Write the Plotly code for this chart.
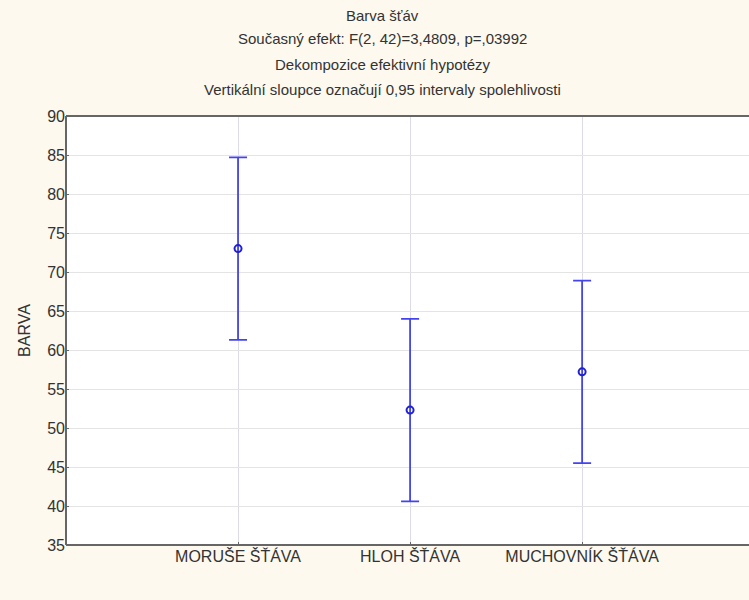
import plotly.graph_objects as go

# Mean colour scores with 0.95 confidence limits per juice
categories = ["MORUŠE ŠŤÁVA", "HLOH ŠŤÁVA", "MUCHOVNÍK ŠŤÁVA"]
means = [73.0, 52.3, 57.2]
upper = [84.7, 64.0, 68.9]
lower = [61.3, 40.6, 45.5]
y_ticks = [35, 40, 45, 50, 55, 60, 65, 70, 75, 80, 85, 90]
title_lines = [
    "Barva šťáv",
    "Současný efekt: F(2, 42)=3,4809, p=,03992",
    "Dekompozice efektivní hypotézy",
    "Vertikální sloupce označují 0,95 intervaly spolehlivosti",
]

BLUE = "#4444ee"
FONT = "Liberation Sans, Arial, sans-serif"
TXT = "#333333"
AXIS = "#666666"

W, H = 749, 600
M_L, M_R, M_T, M_B = 66, 0, 116, 55
plot_h = H - M_T - M_B

x_idx = list(range(len(categories)))
err_plus = [u - m for u, m in zip(upper, means)]
err_minus = [m - l for m, l in zip(means, lower)]

fig = go.Figure()
fig.add_trace(go.Scatter(
    x=x_idx,
    y=means,
    mode="markers",
    marker=dict(symbol="circle-open", size=7, color="#2222cc", line=dict(width=2, color="#2222cc")),
    error_y=dict(type="data", symmetric=False, array=err_plus, arrayminus=err_minus,
                 color=BLUE, thickness=1.8, width=9),
    showlegend=False,
))

# four stacked title lines, positioned by pixel distance from the top edge
line_centers_px = [15, 39, 64, 89]
annotations = []
for line, cy in zip(title_lines, line_centers_px):
    annotations.append(dict(
        text=line, x=0.464, xref="paper", xanchor="center",
        y=1 + (M_T - cy) / plot_h, yref="paper", yanchor="middle",
        showarrow=False, font=dict(family=FONT, size=15, color=TXT),
    ))

# frame of the plot area: left, bottom and top edges (open on the right side)
frame = dict(color=AXIS, width=2)
shapes = [
    dict(type="line", xref="paper", yref="paper", x0=0, x1=1, y0=1, y1=1, line=frame),
    dict(type="line", xref="paper", yref="paper", x0=0, x1=1, y0=0, y1=0, line=frame),
    dict(type="line", xref="paper", yref="paper", x0=0, x1=0, y0=0, y1=1, line=frame),
]

fig.update_layout(
    width=W, height=H,
    margin=dict(l=M_L, r=M_R, t=M_T, b=M_B),
    paper_bgcolor="#fdf9ef",
    plot_bgcolor="#ffffff",
    font=dict(family=FONT, size=16, color=TXT),
    annotations=annotations,
    shapes=shapes,
    xaxis=dict(
        range=[-1, 2.97],
        tickmode="array", tickvals=x_idx, ticktext=categories,
        showgrid=True, gridcolor="#dcdce8", gridwidth=1,
        showline=False,
        ticks="inside", ticklen=3, tickcolor=AXIS,
        tickfont=dict(family=FONT, size=16, color=TXT),
        zeroline=False,
    ),
    yaxis=dict(
        range=[35, 90],
        tickmode="array", tickvals=y_ticks,
        showgrid=True, gridcolor="#e4e4e4", gridwidth=1,
        showline=False,
        ticks="inside", ticklen=3, tickcolor=AXIS,
        tickfont=dict(family=FONT, size=16, color=TXT),
        title=dict(text="BARVA", font=dict(family=FONT, size=16, color=TXT), standoff=12),
        zeroline=False,
    ),
)

fig.write_html("out.html")
